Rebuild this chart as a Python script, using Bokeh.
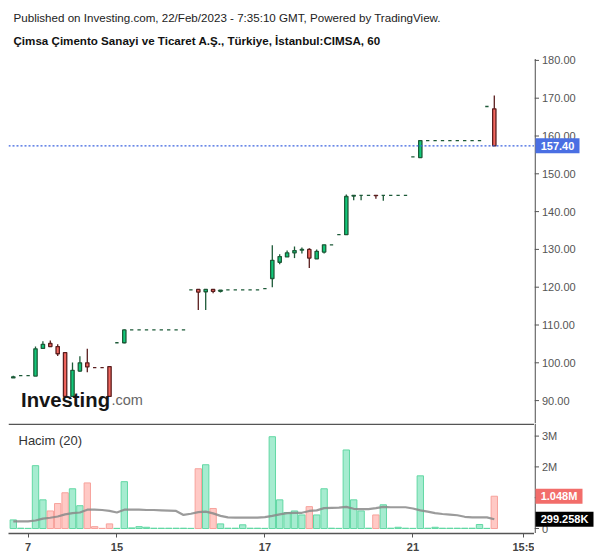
from bokeh.plotting import figure
from bokeh.models import Range1d, FixedTicker, Label, Span, ColumnDataSource
from bokeh.layouts import column, row
from bokeh.embed import file_html
from bokeh.resources import INLINE
from bokeh.core.properties import value

# ---------------- data (hourly bars, CIMSA) ----------------
opens = [96.0, 96.6, 96.6, 96.5, 103.8, 105.1, 104.3, 102.7, 91.1, 97.8,
         100.0, 98.7, 98.7, 99.0, 105.3, 105.3, 108.7, 108.7, 108.7, 108.7,
         108.7, 108.7, 108.7, 108.7, 119.3, 119.4, 118.8, 119.4, 118.9, 119.3,
         119.3, 119.3, 119.3, 119.3, 119.6, 122.3, 126.6, 128.0, 129.1, 129.8,
         130.0, 127.5, 129.3, 131.2, 133.9, 133.9, 144.1, 144.3, 144.3, 144.3,
         144.3, 144.3, 144.3, 144.3, 154.5, 154.3, 158.8, 158.8, 158.8, 158.8,
         158.8, 158.8, 158.8, 158.8, 167.8, 167.2]
highs = [96.6, 96.6, 96.6, 104.3, 105.7, 105.9, 104.9, 102.7, 100.1, 101.7,
         103.7, 98.7, 98.7, 99.0, 105.3, 108.8, 108.7, 108.7, 108.7, 108.7,
         108.7, 108.7, 108.7, 108.7, 119.3, 119.5, 119.4, 119.4, 119.2, 119.3,
         119.3, 119.3, 119.3, 119.3, 119.6, 131.1, 128.7, 129.7, 130.8, 130.5,
         130.3, 130.0, 131.2, 131.2, 133.9, 144.5, 144.3, 144.3, 144.3, 144.3,
         144.3, 144.3, 144.3, 144.3, 154.5, 158.8, 158.8, 158.8, 158.8, 158.8,
         158.8, 158.8, 158.8, 158.8, 167.8, 170.7]
lows = [96.0, 96.6, 96.6, 96.5, 103.7, 104.2, 101.8, 91.0, 91.0, 97.6,
        97.5, 98.7, 98.7, 91.0, 105.3, 105.2, 108.7, 108.7, 108.7, 108.7,
        108.7, 108.7, 108.7, 108.7, 119.3, 114.0, 114.0, 118.4, 118.6, 119.3,
        119.3, 119.3, 119.3, 119.3, 119.6, 120.0, 126.1, 128.0, 127.7, 128.9,
        125.1, 127.5, 128.9, 131.2, 133.9, 133.9, 143.0, 143.0, 144.3, 143.4,
        142.9, 144.3, 144.3, 144.3, 154.5, 154.3, 158.8, 158.8, 158.8, 158.8,
        158.8, 158.8, 158.8, 158.8, 167.8, 157.4]
closes = [96.3, 96.6, 96.6, 103.7, 104.9, 104.3, 102.4, 91.1, 98.0, 100.0,
          98.9, 98.7, 98.7, 91.1, 105.3, 108.7, 108.7, 108.7, 108.7, 108.7,
          108.7, 108.7, 108.7, 108.7, 119.3, 118.7, 119.4, 118.9, 119.2, 119.3,
          119.3, 119.3, 119.3, 119.3, 119.6, 127.1, 128.1, 129.1, 129.7, 130.0,
          127.7, 129.5, 131.2, 131.2, 133.9, 144.0, 144.3, 144.3, 144.3, 144.2,
          144.3, 144.3, 144.3, 144.3, 154.5, 158.8, 158.8, 158.8, 158.8, 158.8,
          158.8, 158.8, 158.8, 158.8, 167.8, 157.4]
# volume in millions of shares
volumes = [0.28, 0.01, 0.005, 2.04, 0.93, 0.57, 0.81, 1.16, 1.29, 0.74,
           1.48, 0.06, 0.005, 0.15, 0.005, 1.52, 0.02, 0.06, 0.04, 0.01,
           0.01, 0.01, 0.01, 0.01, 0.005, 1.94, 2.07, 0.65, 0.15, 0.01,
           0.01, 0.12, 0.01, 0.01, 0.005, 2.98, 0.93, 0.52, 0.57, 0.44,
           0.71, 0.44, 1.29, 0.01, 0.005, 2.55, 0.93, 0.57, 0.01, 0.44,
           0.77, 0.01, 0.04, 0.01, 0.005, 1.71, 0.01, 0.04, 0.01, 0.01,
           0.01, 0.01, 0.01, 0.13, 0.005, 1.048]
# 20-period volume average (millions)
vol_ma = [0.23, 0.23, 0.23, 0.26, 0.32, 0.35, 0.39, 0.46, 0.50, 0.52,
          0.61, 0.61, 0.60, 0.57, 0.52, 0.61, 0.61, 0.61, 0.60, 0.60,
          0.59, 0.58, 0.57, 0.44, 0.48, 0.53, 0.55, 0.49, 0.41, 0.36,
          0.35, 0.35, 0.35, 0.35, 0.37, 0.41, 0.46, 0.50, 0.51, 0.51,
          0.57, 0.59, 0.66, 0.67, 0.68, 0.70, 0.64, 0.63, 0.63, 0.66,
          0.70, 0.69, 0.69, 0.69, 0.65, 0.59, 0.55, 0.50, 0.47, 0.45,
          0.43, 0.38, 0.36, 0.36, 0.36, 0.299258]
tick_bars = [2, 14, 34, 54, 69]
tick_labels = ["7", "15", "17", "21", "15:5"]
price_ticks = [90, 100, 110, 120, 130, 140, 150, 160, 170, 180]
vol_ticks = [0, 1, 2, 3]
vol_tick_labels = ["0", "", "2M", "3M"]

title1 = "Published on Investing.com, 22/Feb/2023 - 7:35:10 GMT, Powered by TradingView."
title2 = "Çimsa Çimento Sanayi ve Ticaret A.Ş., Türkiye, İstanbul:CIMSA, 60"

# ---------------- derived ----------------
n = len(closes)
idx = list(range(n))
up = []
for i in range(n):
    if closes[i] > opens[i]:
        up.append(True)
    elif closes[i] < opens[i]:
        up.append(False)
    else:
        prev = closes[i - 1] if i > 0 else closes[i]
        if closes[i] > prev:
            up.append(True)
        elif closes[i] < prev:
            up.append(False)
        else:
            up.append(up[i - 1] if i > 0 else True)

GREEN_FILL, GREEN_LINE = "#10c97a", "#1d5a38"
RED_FILL, RED_LINE = "#f4675f", "#5a1e1e"
body_fill = [GREEN_FILL if u else RED_FILL for u in up]
body_line = [GREEN_LINE if u else RED_LINE for u in up]
vfill = ["#a6ecd0" if u else "#ffc9c5" for u in up]
vline = ["#62d8a4" if u else "#f7a29c" for u in up]

src = ColumnDataSource(dict(
    x=idx, o=opens, h=highs, l=lows, c=closes,
    top=[max(a, b) for a, b in zip(opens, closes)],
    bot=[min(a, b) for a, b in zip(opens, closes)],
    bf=body_fill, bl=body_line, vol=volumes, ma=vol_ma, vf=vfill, vl=vline,
))

# ---------------- pixel geometry helpers ----------------
X0, DX = 12.8, 7.4            # page x of bar 0, px per bar
def ix(px):
    return (px - X0) / DX
def py(y):                    # page y -> price
    return 180 - (y - 59.9) / 3.78
def vy(y):                    # page y -> volume (M)
    return (528 - y) / 30.8

FONT = "Liberation Sans"
AX = "#555555"
x_range = Range1d(ix(8), ix(534))
y1 = Range1d(py(423), py(0))
y2 = Range1d(vy(533), vy(423))

def base_fig(xr, yr, fw, fh, left=0, xaxis=False):
    f = figure(x_range=xr, y_range=yr, frame_width=fw, frame_height=fh,
               min_border_left=left, min_border_right=0, min_border_top=0,
               min_border_bottom=0,
               x_axis_location="below" if xaxis else None, y_axis_location=None,
               toolbar_location=None, output_backend="svg",
               background_fill_color="white", border_fill_color="white",
               outline_line_color=None)
    f.grid.visible = False
    return f

# ---------------- price pane ----------------
p1 = base_fig(x_range, y1, 526, 423, left=8)
p1.segment(x0="x", y0="l", x1="x", y1="h", line_color="bl", line_width=1.3, source=src)
p1.vbar(x="x", width=0.45, top="top", bottom="bot", fill_color="bf",
        line_color="bl", line_width=1.3, source=src)
p1.add_layout(Span(location=closes[-1], dimension="width", line_color="#3a62e0",
                   line_dash="2 2", line_width=1.2))

p1.add_layout(Label(x=ix(13), y=py(16.5), text=title1, text_font=FONT,
                    text_font_size="11.6px", text_color="#222222",
                    text_baseline="middle", text_align="left"))
p1.add_layout(Label(x=ix(13), y=py(39.5), text=title2, text_font=FONT,
                    text_font_size="11.6px", text_font_style="bold", text_color="#111111",
                    text_baseline="middle", text_align="left"))
p1.add_layout(Label(x=ix(20.5), y=py(399.5), text="Investing", text_font=FONT,
                    text_font_size="20.3px", text_font_style="bold", text_color="#151515",
                    text_baseline="alphabetic", text_align="left"))
p1.add_layout(Label(x=ix(111), y=py(399.5), text=".com", text_font=FONT,
                    text_font_size="14.5px", text_color="#666666",
                    text_baseline="alphabetic", text_align="left"))

# ---------------- volume pane ----------------
p2 = base_fig(x_range, y2, 526, 110, left=8, xaxis=True)
p2.vbar(x="x", width=0.86, top="vol", bottom=0, fill_color="vf", line_color="vl",
        line_width=1, source=src)
p2.line(x="x", y="ma", line_color="#8a8a8a", line_alpha=0.85, line_width=2.2, source=src)
p2.add_layout(Span(location=vy(423.8), dimension="width", line_color=AX, line_width=1.5))
p2.add_layout(Label(x=ix(18), y=vy(440), text="Hacim (20)", text_font=FONT,
                    text_font_size="13px", text_color="#333333",
                    text_baseline="middle", text_align="left"))

xa = p2.xaxis[0]
xa.ticker = FixedTicker(ticks=tick_bars)
xa.major_label_overrides = {t: s for t, s in zip(tick_bars, tick_labels)}
xa.axis_line_color = AX
xa.axis_line_width = 1.3
xa.major_tick_line_color = AX
xa.major_tick_out = 4
xa.major_tick_in = 0
xa.minor_tick_line_color = None
xa.major_label_text_color = "#444444"
xa.major_label_text_font = FONT
xa.major_label_text_font_size = "11px"
xa.major_label_text_font_style = "bold"
xa.major_label_standoff = 3

# ---------------- right-hand price scales (px units across) ----------------
RW = 66
def scale_fig(yr, fh, ticks, labels, lo, hi):
    f = base_fig(Range1d(0, RW), yr, RW, fh)
    f.segment(x0=0.65, y0=lo, x1=0.65, y1=hi, line_color=AX, line_width=1.3)
    f.segment(x0=0, y0=ticks, x1=4.5, y1=ticks, line_color=AX, line_width=1)
    f.text(x=7.5, y=ticks, text=labels, text_font=value(FONT), text_font_size=value("11px"),
           text_color=AX, text_baseline="middle", text_align="left")
    return f

def value_box(f, y, text, color, w):
    f.rect(x=1 + w / 2, y=y, width=w, height=15, height_units="screen",
           fill_color=color, line_color=None)
    f.text(x=1 + w / 2, y=y, text=[text], text_font=value(FONT),
           text_font_size=value("11px"), text_font_style="bold", text_color="white",
           text_baseline="middle", text_align="center")

p1r = scale_fig(y1, 423, price_ticks, [f"{t:.2f}" for t in price_ticks], py(423), 180.4)
value_box(p1r, closes[-1], f"{closes[-1]:.2f}", "#4a6fe3", 44)

p2r = scale_fig(y2, 110, vol_ticks, vol_tick_labels, vy(533), vy(423))
value_box(p2r, volumes[-1], f"{volumes[-1]:.3f}M", "#f26d6a", 47)
value_box(p2r, vol_ma[-1], f"{vol_ma[-1] * 1000:.3f}K", "#000000", 58)

layout = row(column(p1, p2), column(p1r, p2r))
open("out.html", "w").write(file_html(layout, INLINE))
